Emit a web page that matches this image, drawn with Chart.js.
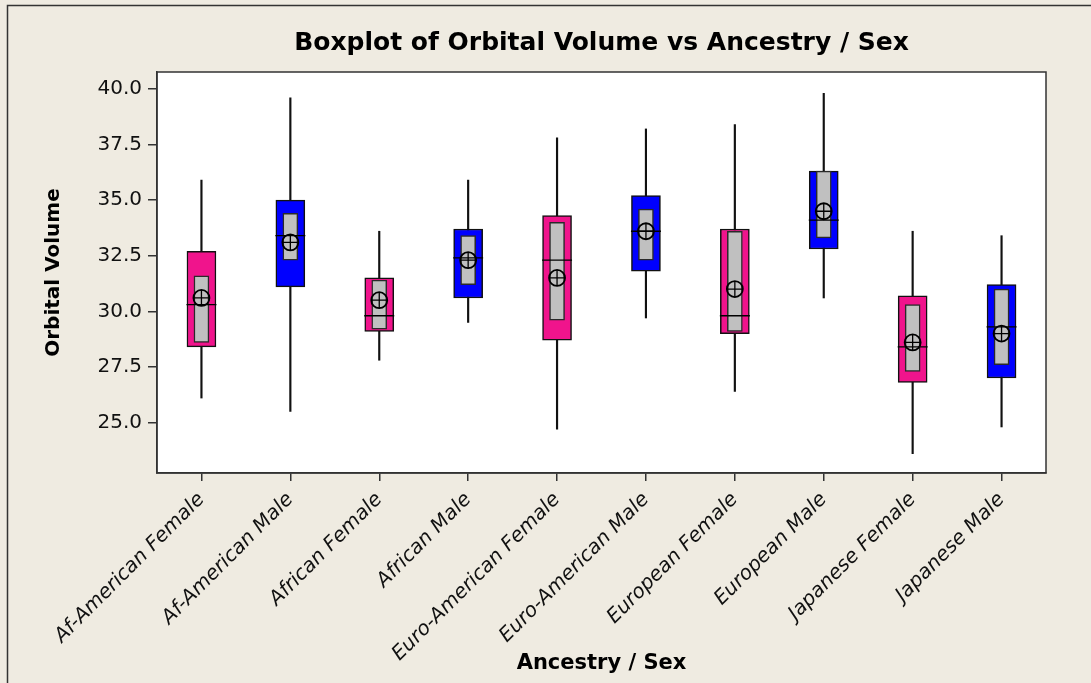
<!DOCTYPE html>
<html>
<head>
<meta charset="utf-8">
<script src="https://cdn.jsdelivr.net/npm/chart.js@4.4.1/dist/chart.umd.min.js"></script>
<style>
  html, body { margin: 0; padding: 0; background: #efebe1; }
  #wrap { width: 1091px; height: 683px; position: relative; }
</style>
</head>
<body>
<div id="wrap"><canvas id="myChart" width="1091" height="683"></canvas></div>
<script>
// values
const categories = ['Af-American Female', 'Af-American Male', 'African Female', 'African Male',
  'Euro-American Female', 'Euro-American Male', 'European Female', 'European Male',
  'Japanese Female', 'Japanese Male'];
const whiskerLow  = [26.1, 25.5, 27.8, 29.5, 24.7, 29.7, 26.4, 30.6, 23.6, 24.8];
const q1          = [28.4, 31.1, 29.1, 30.6, 28.7, 31.8, 29.0, 32.8, 26.8, 27.0];
const ciLow       = [28.6, 32.3, 29.2, 31.2, 29.6, 32.3, 29.1, 33.3, 27.3, 27.6];
const medians     = [30.3, 33.4, 29.8, 32.4, 32.3, 33.6, 29.8, 34.1, 28.4, 29.3];
const ciHigh      = [31.6, 34.4, 31.4, 33.4, 34.0, 34.6, 33.6, 36.3, 30.3, 31.0];
const q3          = [32.7, 35.0, 31.5, 33.7, 34.3, 35.2, 33.7, 36.3, 30.7, 31.2];
const whiskerHigh = [35.9, 39.6, 33.6, 35.9, 37.8, 38.2, 38.4, 39.8, 33.6, 33.4];
const means       = [30.6, 33.1, 30.5, 32.3, 31.5, 33.6, 31.0, 34.5, 28.6, 29.0];
const yTicks = [25.0, 27.5, 30.0, 32.5, 35.0, 37.5, 40.0];

const pink = '#f0148c', blue = '#0000ff';
const boxColors = categories.map(c => c.endsWith('Female') ? pink : blue);
const font = 'DejaVu Sans';

// white plot area, frame round the whole graph and the box round the plot
const frames = {
  id: 'frames',
  beforeDraw(chart) {
    const ctx = chart.ctx, a = chart.chartArea;
    ctx.save();
    ctx.fillStyle = '#fff';
    ctx.fillRect(a.left, a.top, a.right - a.left, a.bottom - a.top);
    ctx.restore();
  },
  afterDraw(chart) {
    const ctx = chart.ctx, a = chart.chartArea;
    ctx.save();
    ctx.strokeStyle = '#333';
    ctx.lineWidth = 1.5;
    ctx.strokeRect(a.left, a.top, a.right - a.left, a.bottom - a.top);
    ctx.beginPath();
    ctx.moveTo(7.5, 700);
    ctx.lineTo(7.5, 5.5);
    ctx.lineTo(1100, 5.5);
    ctx.stroke();
    ctx.restore();
  }
};

new Chart(document.getElementById('myChart'), {
  data: {
    labels: categories,
    datasets: [
      {
        type: 'line', data: means, showLine: false, pointStyle: 'cross',
        pointRadius: 8, borderColor: '#000', borderWidth: 1.3, order: 0
      },
      {
        type: 'line', data: means, showLine: false, pointStyle: 'circle',
        pointRadius: 8, backgroundColor: 'rgba(0,0,0,0)', borderColor: '#000', borderWidth: 1.8, order: 1
      },
      {
        type: 'line', data: medians, showLine: false, pointStyle: 'line',
        pointRadius: 15, borderColor: '#000', borderWidth: 1.3, order: 2
      },
      {
        type: 'bar', data: categories.map((c, i) => [ciLow[i], ciHigh[i]]),
        backgroundColor: '#c0c0c0', borderColor: '#2a2a2a', borderWidth: 1.5, borderSkipped: false,
        barThickness: 15, grouped: false, order: 3
      },
      {
        type: 'bar', data: categories.map((c, i) => [q1[i], q3[i]]),
        backgroundColor: boxColors, borderColor: '#111', borderWidth: 1.5, borderSkipped: false,
        barThickness: 29, grouped: false, order: 4
      },
      {
        type: 'bar', data: categories.map((c, i) => [whiskerLow[i], whiskerHigh[i]]),
        backgroundColor: '#111', borderWidth: 0, barThickness: 1.5, grouped: false, order: 5
      }
    ]
  },
  options: {
    responsive: false,
    animation: false,
    layout: { padding: { left: 38, right: 45, top: 0, bottom: 0 } },
    plugins: {
      legend: { display: false },
      tooltip: { enabled: false },
      title: {
        display: true,
        text: 'Boxplot of Orbital Volume vs Ancestry / Sex',
        fullSize: false,
        color: '#000',
        font: { family: font, size: 25, weight: 'bold' },
        padding: { top: 28, bottom: 14 }
      }
    },
    scales: {
      x: {
        type: 'category',
        offset: true,
        grid: { offset: false, drawOnChartArea: false, drawTicks: true, tickLength: 8, color: '#333', lineWidth: 1.5 },
        border: { display: true, color: '#333', width: 1.5 },
        ticks: {
          autoSkip: false, maxRotation: 45, minRotation: 45, padding: 7,
          color: '#111', font: { family: font, size: 20, style: 'italic' }
        },
        title: {
          display: true, text: 'Ancestry / Sex', color: '#000',
          font: { family: font, size: 21, weight: 'bold' }, padding: { top: 0, bottom: 7 }
        },
        afterFit: s => { s.height = 210; }
      },
      y: {
        type: 'linear',
        min: 22.73,
        max: 40.76,
        afterBuildTicks: s => { s.ticks = yTicks.map(v => ({ value: v })); },
        grid: { drawOnChartArea: false, drawTicks: true, tickLength: 9, color: '#333', lineWidth: 1.5 },
        border: { display: true, color: '#333', width: 1.5 },
        ticks: {
          padding: 6, color: '#111', font: { family: font, size: 20 },
          callback: v => v.toFixed(1)
        },
        title: {
          display: true, text: 'Orbital Volume', color: '#000',
          font: { family: font, size: 20, weight: 'bold' }, padding: { top: 4, bottom: 0 }
        },
        afterFit: s => { s.width = 119; }
      }
    }
  },
  plugins: [frames]
});
</script>
</body>
</html>
